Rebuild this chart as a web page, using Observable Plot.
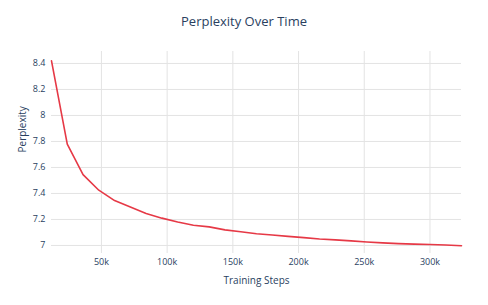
<!DOCTYPE html>
<html>
<head>
<meta charset="utf-8">
<script src="https://cdn.jsdelivr.net/npm/d3@7"></script>
<script src="https://cdn.jsdelivr.net/npm/@observablehq/plot@0.6"></script>
<style>
  body { margin: 0; background: #fff; font-family: "Open Sans", sans-serif; }
  #title { height: 40px; width: 488px; text-align: center; color: #2a3f5f; font-size: 13px; line-height: 42px; }
</style>
</head>
<body>
<div id="title">Perplexity Over Time</div>
<div id="chart"></div>
<script>
const steps = [12000, 24000, 36000, 48000, 60000, 72000, 84000, 96000, 108000, 120000, 132000, 144000, 156000, 168000, 180000, 192000, 204000, 216000, 228000, 240000, 252000, 264000, 276000, 288000, 300000, 312000, 324000];
const perplexity = [8.42, 7.78, 7.545, 7.425, 7.345, 7.295, 7.245, 7.21, 7.18, 7.155, 7.143, 7.12, 7.105, 7.09, 7.08, 7.07, 7.06, 7.05, 7.043, 7.035, 7.027, 7.02, 7.014, 7.01, 7.007, 7.003, 6.998];
const xTicks = [50000, 100000, 150000, 200000, 250000, 300000];
const yTicks = [7, 7.2, 7.4, 7.6, 7.8, 8, 8.2, 8.4];
const xLabel = "Training Steps";
const yLabel = "Perplexity";

const data = steps.map((s, i) => ({step: s, ppl: perplexity[i]}));
const textColor = "#2a3f5f";
const gridColor = "#e3e3e3";

const chart = Plot.plot({
  width: 488,
  height: 265,
  marginLeft: 51,
  marginRight: 27,
  marginTop: 11,
  marginBottom: 52,
  style: {fontFamily: "Open Sans, sans-serif", fontSize: "9px", color: textColor, background: "#fff"},
  x: {domain: [12000, 324000]},
  y: {domain: [6.938, 8.492]},
  marks: [
    Plot.gridX(xTicks, {stroke: gridColor, strokeOpacity: 1, strokeWidth: 1}),
    Plot.gridY(yTicks, {stroke: gridColor, strokeOpacity: 1, strokeWidth: 1}),
    Plot.axisX(xTicks, {tickSize: 0, tickPadding: 5, tickFormat: d => d / 1000 + "k", fill: textColor, label: null, fontSize: 9}),
    Plot.axisY(yTicks, {tickSize: 0, tickPadding: 6, tickFormat: d => String(+d.toFixed(1)), fill: textColor, label: null, fontSize: 9}),
    Plot.text([xLabel], {text: d => d, frameAnchor: "bottom", dy: 27, lineAnchor: "middle", fill: textColor, fontSize: 10}),
    Plot.text([yLabel], {text: d => d, frameAnchor: "left", dx: -29, rotate: -90, lineAnchor: "middle", fill: textColor, fontSize: 10}),
    Plot.line(data, {x: "step", y: "ppl", stroke: "#e63946", strokeWidth: 1.6})
  ]
});
document.getElementById("chart").appendChild(chart);
</script>
</body>
</html>
